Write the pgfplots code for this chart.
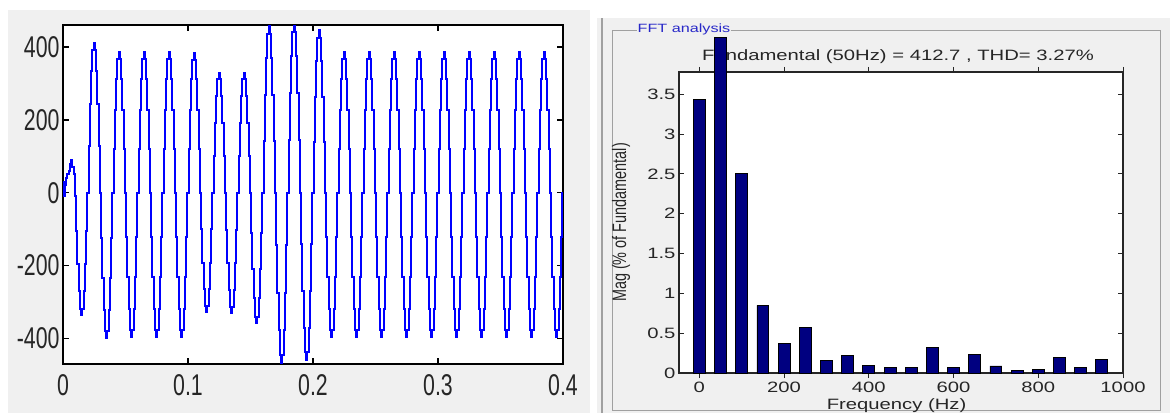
\documentclass[border=0pt]{standalone}
\usepackage{pgfplots}
\pgfplotsset{compat=1.18}
\usepackage{fontspec}
\setmainfont{Liberation Sans}
\newfontfamily\lfontfam[FakeStretch=0.71]{Liberation Sans}
\newfontfamily\rfontfam[FakeStretch=1.35]{Liberation Sans}
\newfontfamily\vfontfam[FakeStretch=0.74]{Liberation Sans}
\definecolor{panel}{RGB}{240,240,240}
\definecolor{barc}{RGB}{0,0,128}
\definecolor{wave}{RGB}{0,0,255}
\definecolor{grplabel}{RGB}{40,40,200}
\definecolor{frameg}{RGB}{160,160,160}
\begin{document}
\begin{tikzpicture}[x=1pt,y=1pt]
\useasboundingbox (0,0) rectangle (1170,413);
\fill[white] (0,0) rectangle (1170,413);
\fill[panel] (8,0) rectangle (590,403);
\fill[panel] (597,0) rectangle (1170,395);
\draw[frameg, line width=2pt] (602,0) -- (602,395);
\draw[frameg, line width=0.8pt] (612,3) rectangle (1160,383);
\node[fill=panel, inner sep=1pt, text=grplabel, font=\rfontfam\fontsize{12}{14}\selectfont] at (684,384) {FFT analysis};
\node[font=\rfontfam\fontsize{15}{18}\selectfont, text=black!85] at (898,356) {Fundamental (50Hz) = 412.7 , THD= 3.27\%};

\begin{axis}[
  at={(63pt,49pt)}, anchor=south west, scale only axis,
  width=500pt, height=339pt,
  xmin=0, xmax=400, ymin=-470, ymax=460,
  xtick={0,100,200,300,400}, xticklabels={0,0.1,0.2,0.3,0.4},
  ytick={-400,-200,0,200,400}, yticklabels={-400,-200,0,200,400},
  axis background/.style={fill=white},
  axis line style={line width=2pt, black},
  major tick length=6pt,
  tick style={line width=1.5pt, black},
  tick label style={font=\lfontfam\fontsize{30}{36}\selectfont, text=black!85},
  xticklabel style={yshift=-7pt},
]
\addplot[wave, line width=2pt, const plot mark mid] coordinates {
(0,30)(1,-10)(2,20)(3,40)(4,50)(5,60)(6,80)(7,90)(8,70)(9,50)(10,-10)(11,-104)(12,-197)(13,-271)(14,-319)(15,-335)(16,-319)(17,-271)(18,-197)(19,-104)
(20,0)(21,127)(22,242)(23,333)(24,392)(25,412)(26,392)(27,333)(28,242)(29,127)(30,0)(31,-123)(32,-234)(33,-322)(34,-379)(35,-398)(36,-379)(37,-322)(38,-234)(39,-123)
(40,0)(41,120)(42,228)(43,313)(44,368)(45,387)(46,368)(47,313)(48,228)(49,120)(50,0)(51,-122)(52,-232)(53,-320)(54,-376)(55,-395)(56,-376)(57,-320)(58,-232)(59,-122)
(60,0)(61,120)(62,228)(63,313)(64,368)(65,387)(66,368)(67,313)(68,228)(69,120)(70,0)(71,-122)(72,-232)(73,-320)(74,-376)(75,-395)(76,-376)(77,-320)(78,-232)(79,-122)
(80,0)(81,120)(82,228)(83,313)(84,368)(85,387)(86,368)(87,313)(88,228)(89,120)(90,0)(91,-122)(92,-232)(93,-320)(94,-376)(95,-395)(96,-376)(97,-320)(98,-232)(99,-122)
(100,0)(101,119)(102,226)(103,311)(104,365)(105,384)(106,365)(107,311)(108,226)(109,119)(110,0)(111,-101)(112,-192)(113,-265)(114,-311)(115,-327)(116,-311)(117,-265)(118,-192)(119,-101)
(120,0)(121,101)(122,192)(123,265)(124,311)(125,327)(126,311)(127,265)(128,192)(129,101)(130,0)(131,-102)(132,-194)(133,-267)(134,-314)(135,-330)(136,-314)(137,-267)(138,-194)(139,-102)
(140,0)(141,101)(142,192)(143,265)(144,311)(145,327)(146,311)(147,265)(148,192)(149,101)(150,0)(151,-110)(152,-210)(153,-289)(154,-340)(155,-357)(156,-340)(157,-289)(158,-210)(159,-110)
(160,0)(161,141)(162,268)(163,369)(164,434)(165,456)(166,434)(167,369)(168,268)(169,141)(170,0)(171,-144)(172,-275)(173,-378)(174,-444)(175,-467)(176,-444)(177,-378)(178,-275)(179,-144)
(180,0)(181,144)(182,273)(183,376)(184,442)(185,465)(186,442)(187,376)(188,273)(189,144)(190,0)(191,-142)(192,-270)(193,-372)(194,-437)(195,-460)(196,-437)(197,-372)(198,-270)(199,-142)
(200,0)(201,138)(202,262)(203,360)(204,423)(205,445)(206,423)(207,360)(208,262)(209,138)(210,0)(211,-122)(212,-232)(213,-320)(214,-376)(215,-395)(216,-376)(217,-320)(218,-232)(219,-122)
(220,0)(221,120)(222,228)(223,313)(224,368)(225,387)(226,368)(227,313)(228,228)(229,120)(230,0)(231,-122)(232,-232)(233,-320)(234,-376)(235,-395)(236,-376)(237,-320)(238,-232)(239,-122)
(240,0)(241,120)(242,228)(243,313)(244,368)(245,387)(246,368)(247,313)(248,228)(249,120)(250,0)(251,-122)(252,-232)(253,-320)(254,-376)(255,-395)(256,-376)(257,-320)(258,-232)(259,-122)
(260,0)(261,120)(262,228)(263,313)(264,368)(265,387)(266,368)(267,313)(268,228)(269,120)(270,0)(271,-122)(272,-232)(273,-320)(274,-376)(275,-395)(276,-376)(277,-320)(278,-232)(279,-122)
(280,0)(281,120)(282,228)(283,313)(284,368)(285,387)(286,368)(287,313)(288,228)(289,120)(290,0)(291,-122)(292,-232)(293,-320)(294,-376)(295,-395)(296,-376)(297,-320)(298,-232)(299,-122)
(300,0)(301,120)(302,228)(303,313)(304,368)(305,387)(306,368)(307,313)(308,228)(309,120)(310,0)(311,-122)(312,-232)(313,-320)(314,-376)(315,-395)(316,-376)(317,-320)(318,-232)(319,-122)
(320,0)(321,120)(322,228)(323,313)(324,368)(325,387)(326,368)(327,313)(328,228)(329,120)(330,0)(331,-122)(332,-232)(333,-320)(334,-376)(335,-395)(336,-376)(337,-320)(338,-232)(339,-122)
(340,0)(341,120)(342,228)(343,313)(344,368)(345,387)(346,368)(347,313)(348,228)(349,120)(350,0)(351,-122)(352,-232)(353,-320)(354,-376)(355,-395)(356,-376)(357,-320)(358,-232)(359,-122)
(360,0)(361,120)(362,228)(363,313)(364,368)(365,387)(366,368)(367,313)(368,228)(369,120)(370,0)(371,-122)(372,-232)(373,-320)(374,-376)(375,-395)(376,-376)(377,-320)(378,-232)(379,-122)
(380,0)(381,120)(382,228)(383,313)(384,368)(385,387)(386,368)(387,313)(388,228)(389,120)(390,0)(391,-122)(392,-232)(393,-320)(394,-376)(395,-395)(396,-376)(397,-320)(398,-232)(399,-122)
(400,0)
};
\end{axis}

\begin{axis}[
  at={(679pt,40pt)}, anchor=south west, scale only axis,
  width=444pt, height=301pt,
  xmin=-48, xmax=1000, ymin=0, ymax=3.78,
  clip=false,
  ybar, bar width=28,
  xtick={0,200,400,600,800,1000}, xticklabels={0,200,400,600,800,1000},
  ytick={0,0.5,1,1.5,2,2.5,3,3.5}, yticklabels={0,0.5,1,1.5,2,2.5,3,3.5},
  axis background/.style={fill=white},
  axis line style={line width=1.2pt, black!85},
  major tick length=5pt,
  tick style={line width=1pt, black!85},
  tick label style={font=\rfontfam\fontsize{15}{18}\selectfont, text=black!85},
  xlabel={Frequency (Hz)},
  ylabel={Mag (\% of Fundamental)},
  x label style={at={(axis description cs:0.49,-0.107)}, anchor=center, font=\rfontfam\fontsize{15}{18}\selectfont, text=black!85},
  y label style={at={(axis description cs:-0.1306,0.5)}, anchor=center, font=\vfontfam\fontsize{19.5}{22}\selectfont, text=black!85},
]
\addplot[fill=barc, draw=black, line width=0.8pt] coordinates {
(0,3.44)(50,4.21)(100,2.51)(150,0.85)(200,0.37)(250,0.575)(300,0.155)(350,0.22)(400,0.10)(450,0.07)
(500,0.07)(550,0.32)(600,0.07)(650,0.235)(700,0.088)(750,0.035)(800,0.043)(850,0.197)(900,0.072)(950,0.167)
};
\end{axis}
\end{tikzpicture}
\end{document}
